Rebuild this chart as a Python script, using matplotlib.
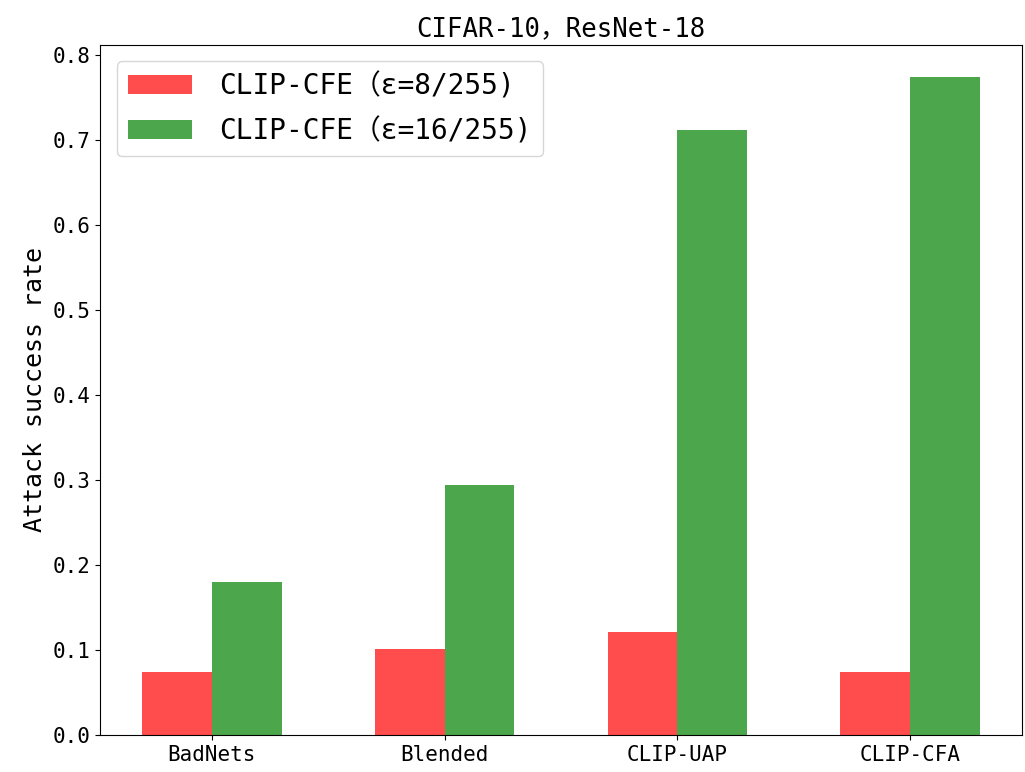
import matplotlib
matplotlib.use("Agg")
import matplotlib.pyplot as plt
import numpy as np

# SimHei-like look: monospaced latin, CJK font for full-width signs
plt.rcParams["font.family"] = ["DejaVu Sans Mono", "Noto Sans CJK SC"]
plt.rcParams["axes.unicode_minus"] = False

attacks = ["BadNets", "Blended", "CLIP-UAP", "CLIP-CFA"]
asr_eps8 = [0.074, 0.101, 0.121, 0.074]
asr_eps16 = [0.180, 0.294, 0.712, 0.774]
labels = ["CLIP-CFE（ε=8/255)", "CLIP-CFE（ε=16/255)"]


def main() -> None:
    fig = plt.figure(figsize=(10.25, 7.72), dpi=100)
    ax = fig.add_axes([0.0976, 0.048, 0.8994, 0.8942])

    x = np.arange(len(attacks), dtype=float)
    width = 0.3
    ax.bar(x - width / 2, asr_eps8, width=width, color="r", alpha=0.7, label=labels[0])
    ax.bar(x + width / 2, asr_eps16, width=width, color="g", alpha=0.7, label=labels[1])

    ax.set_xticks(x)
    ax.set_xticklabels(attacks, fontsize=15)
    ax.tick_params(axis="y", labelsize=15)
    ax.set_ylabel("Attack success rate", fontsize=18)
    ax.set_title("CIFAR-10，ResNet-18", fontsize=18.5)
    ax.legend(
        loc="upper left",
        fontsize=20,
        handlelength=2.3,
        handletextpad=1.0,
        labelspacing=0.6,
        borderaxespad=0.6,
    )

    fig.savefig("out.png", dpi=100)
    plt.close(fig)


if __name__ == "__main__":
    main()
